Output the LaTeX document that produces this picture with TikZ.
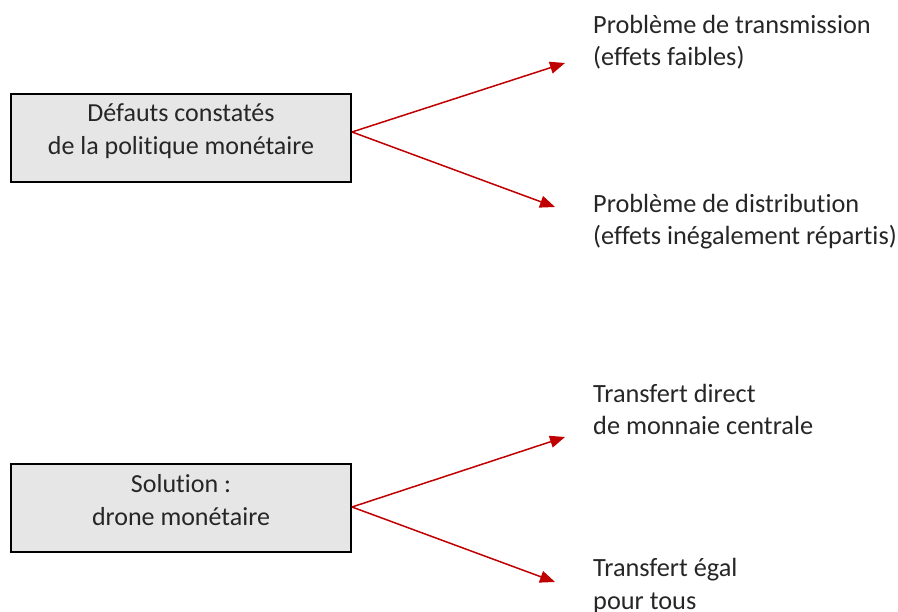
\documentclass[tikz,border=0pt]{standalone}
\usepackage{fontspec}
\setmainfont{Carlito}[Ligatures={NoCommon}]
\usetikzlibrary{arrows.meta}

\definecolor{boxgray}{HTML}{E6E6E6}
\definecolor{arrowred}{HTML}{C00000}
\definecolor{textgray}{HTML}{262626}

\tikzset{
  box/.style={draw=black, line width=2pt, fill=boxgray, minimum width=340pt,
    minimum height=88pt, inner sep=0pt},
  boxtext/.style={text=textgray, align=center, inner sep=0pt,
    font=\fontsize{26}{33}\selectfont},
  item/.style={text=textgray, align=left, inner sep=0pt, anchor=base west,
    font=\fontsize{26.3}{32.5}\selectfont},
  link/.style={arrowred, line width=1.5pt, -{Triangle[length=15pt,width=12pt]}}
}

\begin{document}
\begin{tikzpicture}[x=1pt,y=-1pt]
\useasboundingbox (0,0) rectangle (898,612);

% top group
\node[box] (defauts) at (181,138) {};
\node[boxtext] (defautstext) at (181,131) {Défauts constatés\\de la politique monétaire};
\node[item] (transmission) at (593,66) {Problème de transmission\\(effets faibles)};
\node[item] (distribution) at (593,245) {Problème de distribution\\(effets inégalement répartis)};
\coordinate (tipA) at (565,63);
\coordinate (tipB) at (555,207);
\draw[link] ([yshift=6pt]defauts.east) -- (tipA);
\draw[link] ([yshift=6pt]defauts.east) -- (tipB);

% bottom group
\node[box] (solution) at (181,508) {};
\node[boxtext] (solutiontext) at (181,500) {Solution :\\drone monétaire};
\node[item] (transfert) at (593,435) {Transfert direct\\de monnaie centrale};
\node[item] (egal) at (593,609) {Transfert égal\\pour tous};
\coordinate (tipC) at (565,437);
\coordinate (tipD) at (555,582);
\draw[link] ([yshift=1pt]solution.east) -- (tipC);
\draw[link] ([yshift=1pt]solution.east) -- (tipD);
\end{tikzpicture}
\end{document}
